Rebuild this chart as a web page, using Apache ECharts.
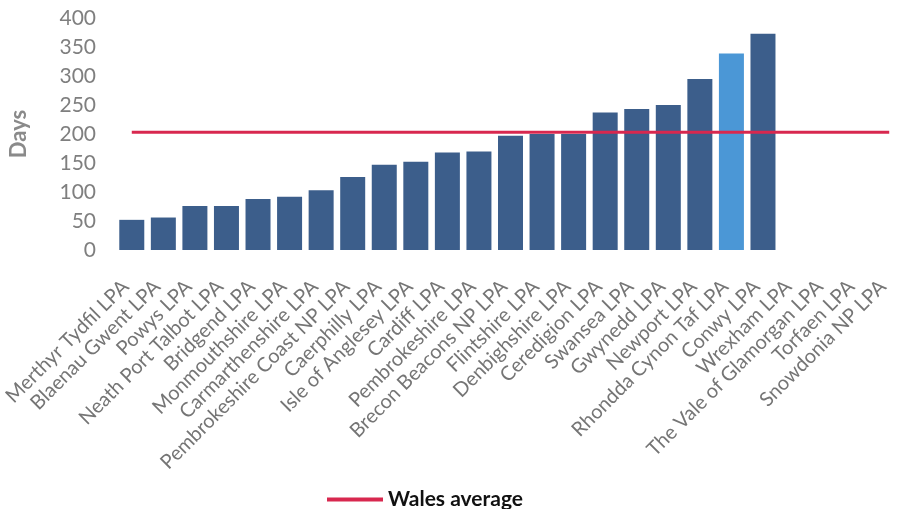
<!DOCTYPE html>
<html>
<head>
<meta charset="utf-8">
<script src="https://cdn.jsdelivr.net/npm/echarts@6/dist/echarts.min.js"></script>
<style>
html,body{margin:0;padding:0;background:#ffffff;}
#chart{width:905px;height:509px;}
</style>
</head>
<body>
<div id="chart"></div>
<script>
var categories = ['Merthyr Tydfil LPA','Blaenau Gwent LPA','Powys LPA','Neath Port Talbot LPA','Bridgend LPA','Monmouthshire LPA','Carmarthenshire LPA','Pembrokeshire Coast NP LPA','Caerphilly LPA','Isle of Anglesey LPA','Cardiff LPA','Pembrokeshire LPA','Brecon Beacons NP LPA','Flintshire LPA','Denbighshire LPA','Ceredigion LPA','Swansea LPA','Gwynedd LPA','Newport LPA','Rhondda Cynon Taf LPA','Conwy LPA','Wrexham LPA','The Vale of Glamorgan LPA','Torfaen LPA','Snowdonia NP LPA'];
var days = [52, 56, 76, 76, 88, 92, 103, 126, 147, 152, 168, 170, 197, 200, 200, 237, 243, 250, 295, 339, 373, null, null, null, null];
var highlighted = ['Rhondda Cynon Taf LPA'];
var walesAverage = 203;
var yTicks = {min: 0, max: 400, interval: 50};

var FONT = 'Lato';
var barData = categories.map(function(c, i){
  return {value: days[i], itemStyle: {color: highlighted.indexOf(c) >= 0 ? '#4b97d6' : '#3c5e8b'}};
});

var chart = echarts.init(document.getElementById('chart'));
chart.setOption({
  animation: false,
  backgroundColor: '#ffffff',
  textStyle: {fontFamily: FONT},
  grid: {left: 115.5, right: -10.5, top: 18, bottom: 259, containLabel: false},
  legend: {
    left: 322, top: 484,
    itemWidth: 56, itemHeight: 4, itemGap: 7,
    data: [{name: 'Wales average', icon: 'rect'}],
    textStyle: {fontFamily: FONT, fontSize: 21, color: '#111111', fontWeight: 'bold'}
  },
  xAxis: {
    type: 'category',
    data: categories,
    boundaryGap: true,
    axisLine: {show: false},
    axisTick: {show: false},
    axisLabel: {interval: 0, rotate: 45, fontSize: 20, color: '#757575', margin: 27, padding: [0, 9, 0, 0], fontFamily: FONT}
  },
  yAxis: {
    type: 'value',
    min: yTicks.min, max: yTicks.max, interval: yTicks.interval,
    name: 'Days',
    nameLocation: 'middle',
    nameGap: 86,
    nameTextStyle: {fontSize: 22, fontWeight: 'bold', color: '#8a8a8a', fontFamily: FONT},
    axisLine: {show: false},
    axisTick: {show: false},
    splitLine: {show: false},
    axisLabel: {fontSize: 21, color: '#7f7f7f', margin: 20, fontFamily: FONT}
  },
  series: [
    {
      type: 'bar',
      name: 'Days',
      data: barData,
      barWidth: 25
    },
    {
      type: 'line',
      name: 'Wales average',
      data: [[categories[0], walesAverage], [categories[categories.length - 1], walesAverage]],
      symbol: 'none',
      lineStyle: {color: '#d8284f', width: 3},
      itemStyle: {color: '#d8284f'},
      z: 5
    }
  ]
});
</script>
</body>
</html>
